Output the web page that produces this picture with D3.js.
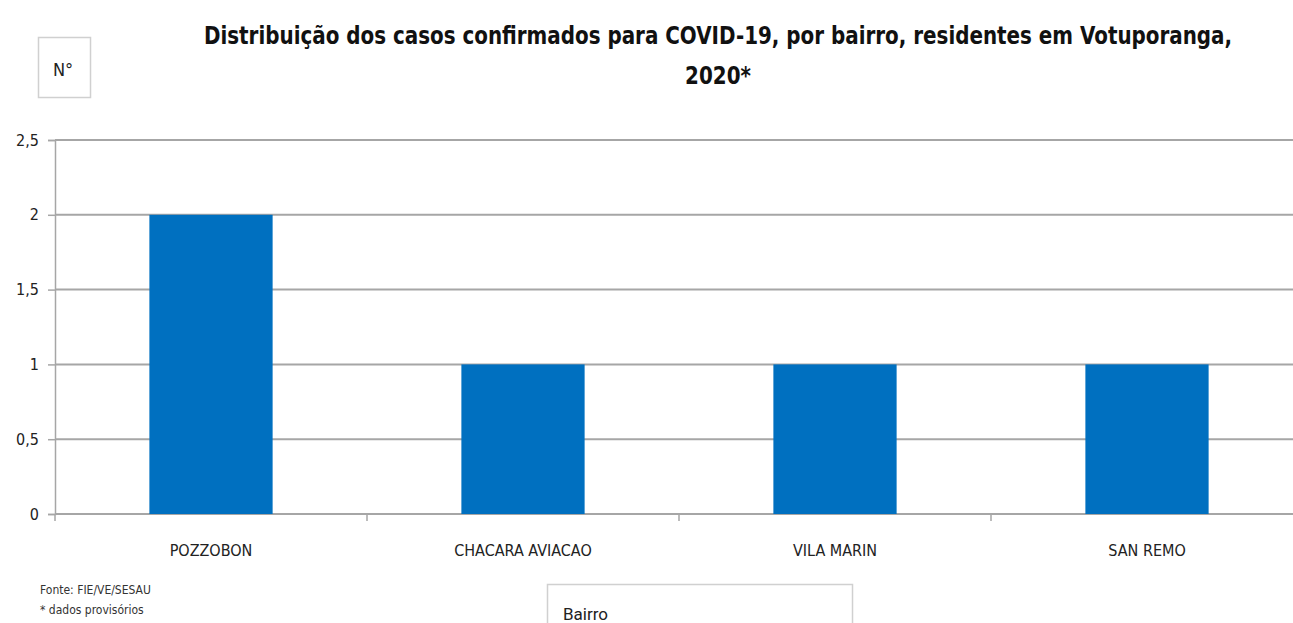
<!DOCTYPE html>
<html><head><meta charset="utf-8">
<script src="https://cdn.jsdelivr.net/npm/d3@7"></script>
<style>
html,body{margin:0;padding:0;background:#fff;overflow:hidden;}
text{font-family:"Liberation Sans Narrow","DejaVu Sans Condensed","Liberation Sans",sans-serif;}
</style></head>
<body>
<svg id="chart" width="1293" height="623"></svg>
<script>
const categories = ["POZZOBON", "CHACARA AVIACAO", "VILA MARIN", "SAN REMO"];
const values = [2, 1, 1, 1];
const yTicks = [0, 0.5, 1, 1.5, 2, 2.5];
const yTickLabels = ["0", "0,5", "1", "1,5", "2", "2,5"];
const titleLines = ["Distribuição dos casos confirmados para COVID-19, por bairro, residentes em Votuporanga,", "2020*"];

const svg = d3.select("#chart");
const plotLeft = 55, plotRight = 1303, plotTop = 140, plotBottom = 514;

const x = d3.scaleBand().domain(categories).range([plotLeft, plotRight]).paddingInner(0.605).paddingOuter(0.3025);
const y = d3.scaleLinear().domain([0, 2.5]).range([plotBottom, plotTop]);

// gridlines
svg.append("g").selectAll("line").data(yTicks).join("line")
  .attr("x1", plotLeft).attr("x2", 1293)
  .attr("y1", d => y(d)).attr("y2", d => y(d))
  .attr("stroke", "#a6a6a6").attr("stroke-width", 2);

// bars
svg.append("g").selectAll("rect").data(categories).join("rect")
  .attr("x", d => x(d)).attr("width", x.bandwidth())
  .attr("y", (d, i) => y(values[i])).attr("height", (d, i) => y(0) - y(values[i]))
  .attr("fill", "#0070c0");

// y axis
const yAxis = d3.axisLeft(y).tickValues(yTicks).tickSize(7).tickPadding(9)
  .tickFormat((d, i) => yTickLabels[i]);
const gy = svg.append("g").attr("transform", `translate(${plotLeft},0)`).call(yAxis);
gy.select(".domain").attr("stroke", "#a6a6a6").attr("stroke-width", 1.5);
gy.selectAll(".tick line").attr("stroke", "#a6a6a6").attr("stroke-width", 1.5);
gy.selectAll(".tick text").attr("font-size", 16).attr("fill", "#222")
  .style("font-family", '"Liberation Sans Narrow","DejaVu Sans Condensed",sans-serif');

// x axis
const gx = svg.append("g").attr("transform", `translate(0,${plotBottom})`)
  .call(d3.axisBottom(x).tickSize(0).tickPadding(31));
gx.select(".domain").remove();
gx.selectAll(".tick text").attr("font-size", 16).attr("fill", "#222")
  .style("font-family", '"Liberation Sans Narrow","DejaVu Sans Condensed",sans-serif');
// category boundary ticks
const boundaries = d3.range(categories.length + 1).map(i => plotLeft + i * x.step());
svg.append("g").selectAll("line").data(boundaries).join("line")
  .attr("x1", d => d).attr("x2", d => d).attr("y1", plotBottom).attr("y2", plotBottom + 7)
  .attr("stroke", "#a6a6a6").attr("stroke-width", 1.5);

// title (horizontally condensed to match the narrow original face)
svg.append("text").attr("transform", "translate(718,44) scale(0.885,1)").attr("text-anchor", "middle")
  .attr("font-size", 25).attr("font-weight", "bold").attr("fill", "#111")
  .text(titleLines[0]);
svg.append("text").attr("transform", "translate(718,84) scale(0.885,1)").attr("text-anchor", "middle")
  .attr("font-size", 25).attr("font-weight", "bold").attr("fill", "#111")
  .text(titleLines[1]);

// N° box
svg.append("rect").attr("x", 38.5).attr("y", 37.5).attr("width", 52).attr("height", 60)
  .attr("fill", "#fff").attr("stroke", "#d0d0d0").attr("stroke-width", 1.5);
svg.append("text").attr("x", 63).attr("y", 76).attr("text-anchor", "middle")
  .attr("font-size", 18).attr("fill", "#222").text("N°");

// Bairro box
svg.append("rect").attr("x", 547.5).attr("y", 584.5).attr("width", 305).attr("height", 60)
  .attr("fill", "#fff").attr("stroke", "#d0d0d0").attr("stroke-width", 1.5);
svg.append("text").attr("x", 563).attr("y", 620).attr("font-size", 17).attr("fill", "#222")
  .style("font-family", "Roboto, sans-serif").text("Bairro");

// source notes
svg.append("text").attr("x", 40).attr("y", 594).attr("font-size", 12).attr("fill", "#333").text("Fonte: FIE/VE/SESAU");
svg.append("text").attr("x", 40).attr("y", 614).attr("font-size", 12).attr("fill", "#333").text("* dados provisórios");
</script>
</body></html>
